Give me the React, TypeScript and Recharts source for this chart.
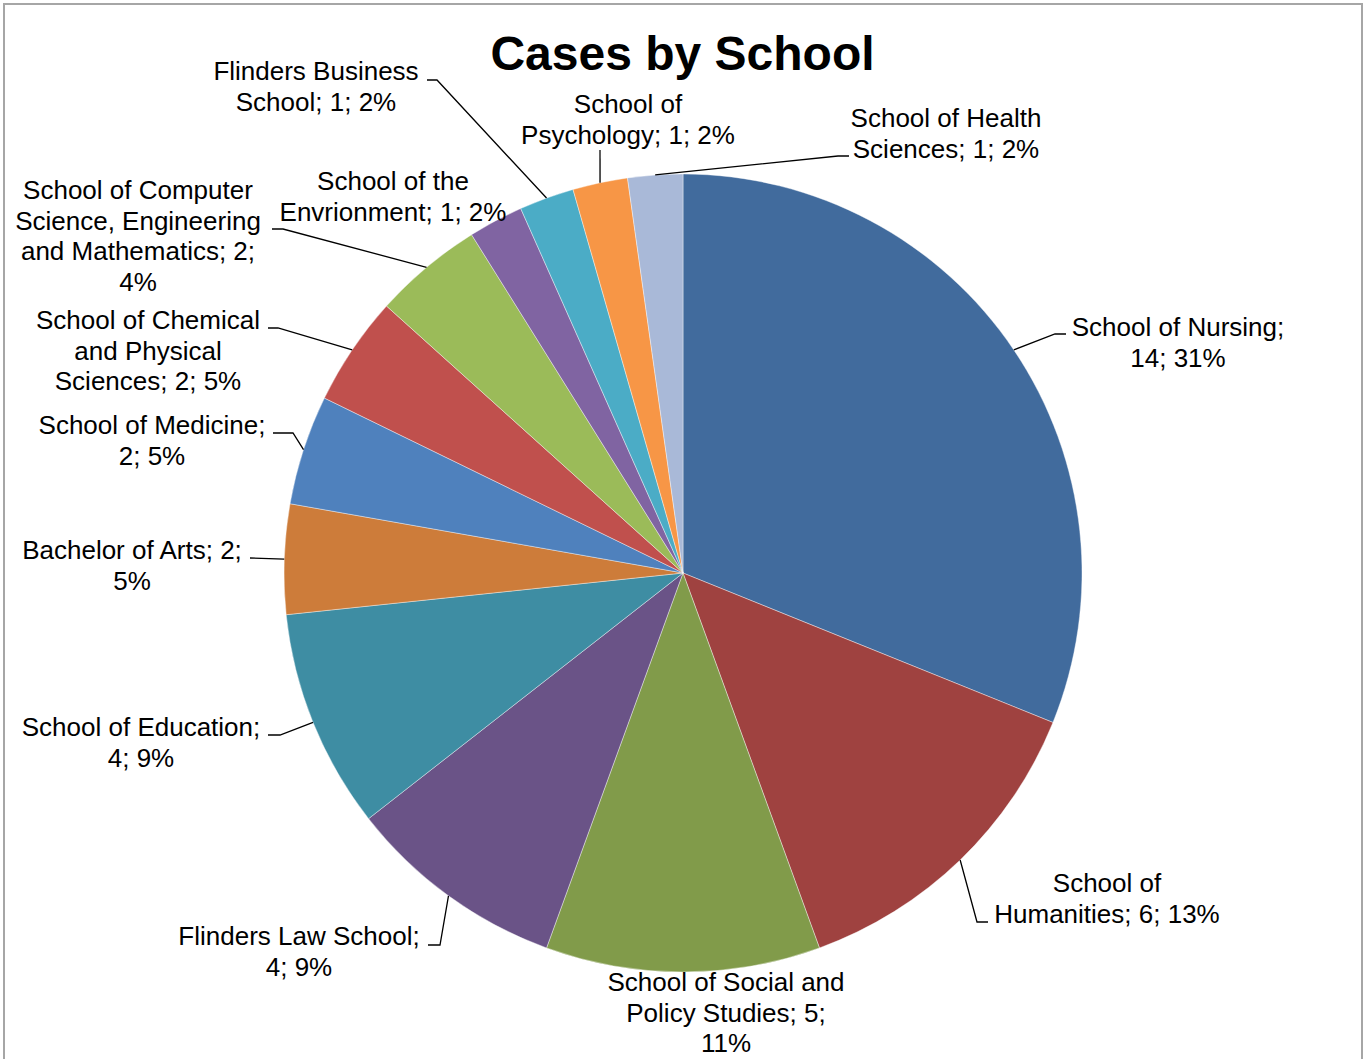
import { PieChart, Pie, Cell } from 'recharts'

const schools = [
  'School of Nursing',
  'School of Humanities',
  'School of Social and Policy Studies',
  'Flinders Law School',
  'School of Education',
  'Bachelor of Arts',
  'School of Medicine',
  'School of Chemical and Physical Sciences',
  'School of Computer Science, Engineering and Mathematics',
  'School of the Envrionment',
  'Flinders Business School',
  'School of Psychology',
  'School of Health Sciences',
]
const cases = [14, 6, 5, 4, 4, 2, 2, 2, 2, 1, 1, 1, 1]
const colors = [
  '#416B9D', '#9F4240', '#819B4A', '#6A5387', '#3E8DA3', '#CD7C3A',
  '#4F81BD', '#C0504D', '#9BBB59', '#8064A2', '#4BACC6', '#F79646', '#A9B9D8',
]

// where each data label sits, relative to the pie centre
// t = centre of first text line, bend/end = leader line elbow and stub end
const labelLayout = [
  { t: [495, -246], bend: [372, -239], end: [383, -239] },
  { t: [424, 310], bend: [294, 349], end: [305, 349] },
  { t: [43, 409], bend: null, end: null },
  { t: [-384, 363], bend: [-243, 372], end: [-255, 372] },
  { t: [-542, 154], bend: [-403, 162], end: [-415, 162] },
  { t: [-551, -23], bend: [-433, -15], end: [-433, -15] },
  { t: [-531, -148], bend: [-390, -140], end: [-410, -140] },
  { t: [-535, -253], bend: [-405, -245], end: [-415, -245] },
  { t: [-545, -383], bend: [-400, -344], end: [-411, -344] },
  { t: [-290, -392], bend: null, end: null },
  { t: [-367, -502], bend: [-246, -493], end: [-256, -493] },
  { t: [-55, -469], bend: [-83, -423], end: [-83, -423] },
  { t: [263, -455], bend: [155, -417], end: [166, -417] },
]

const FONT = '"Liberation Sans", Arial, sans-serif'
const LABEL_SIZE = 26
const LINE_GAP = 30.7

// percentages rounded so they add to 100 (largest remainder, like Excel)
function roundedPercents(vals: number[]) {
  const total = vals.reduce((a, b) => a + b, 0)
  const raw = vals.map((v) => (v / total) * 100)
  const base = raw.map((r) => Math.floor(r))
  let left = 100 - base.reduce((a, b) => a + b, 0)
  const order = raw
    .map((r, i) => ({ i, rem: r - Math.floor(r) }))
    .sort((a, b) => b.rem - a.rem || a.i - b.i)
  for (const o of order) {
    if (left <= 0) break
    base[o.i] += 1
    left--
  }
  return base
}

function wrap(text: string, max: number) {
  const words = text.split(' ')
  const lines: string[] = []
  let cur = ''
  for (const w of words) {
    const next = cur ? cur + ' ' + w : w
    if (next.length > max && cur) {
      lines.push(cur)
      cur = w
    } else cur = next
  }
  if (cur) lines.push(cur)
  return lines
}

const pcts = roundedPercents(cases)
const data = schools.map((name, i) => ({ name, value: cases[i], pct: pcts[i] }))

const renderLabel = (props: any) => {
  const { cx, cy, midAngle, outerRadius, index } = props
  const lay = labelLayout[index]
  const d = data[index]
  const rad = Math.PI / 180
  const ax = cx + outerRadius * Math.cos(-midAngle * rad)
  const ay = cy + outerRadius * Math.sin(-midAngle * rad)
  const lines = wrap(`${d.name}; ${d.value}; ${d.pct}%`, 20)
  const tx = cx + lay.t[0]
  const ty = cy + lay.t[1]
  return (
    <g key={`lbl-${index}`}>
      {lay.bend && lay.end && (
        <polyline
          points={`${ax},${ay} ${cx + lay.bend[0]},${cy + lay.bend[1]} ${cx + lay.end[0]},${cy + lay.end[1]}`}
          fill="none"
          stroke="#000"
          strokeWidth={1.3}
        />
      )}
      <text textAnchor="middle" fontFamily={FONT} fontSize={LABEL_SIZE} fill="#000">
        {lines.map((ln, i) => (
          <tspan key={i} x={tx} y={ty + 9 + i * LINE_GAP}>
            {ln}
          </tspan>
        ))}
      </text>
    </g>
  )
}

export default function App() {
  return (
    <div
      style={{
        position: 'absolute',
        left: 0,
        top: 0,
        width: 1365,
        height: 1059,
        overflow: 'hidden',
        background: '#fff',
      }}
    >
      <div
        style={{
          position: 'absolute',
          left: 3,
          top: 3,
          width: 1356,
          height: 1100,
          border: '2px solid #a6a6a6',
        }}
      />
      <div
        style={{
          position: 'absolute',
          left: 0,
          top: 23,
          width: 1365,
          textAlign: 'center',
          fontFamily: FONT,
          fontWeight: 'bold',
          fontSize: 48,
          lineHeight: '62px',
        }}
      >
        Cases by School
      </div>
      <div style={{ position: 'absolute', left: 0, top: 0 }}>
        <PieChart width={1365} height={1059} margin={{ top: 0, right: 0, bottom: 0, left: 0 }}>
          <Pie
            data={data}
            dataKey="value"
            nameKey="name"
            cx={683}
            cy={573}
            outerRadius={399}
            startAngle={90}
            endAngle={-270}
            stroke="#fff"
            strokeWidth={0.4}
            label={renderLabel}
            labelLine={false}
            isAnimationActive={false}
          >
            {data.map((d, i) => (
              <Cell key={d.name} fill={colors[i]} />
            ))}
          </Pie>
        </PieChart>
      </div>
    </div>
  )
}
